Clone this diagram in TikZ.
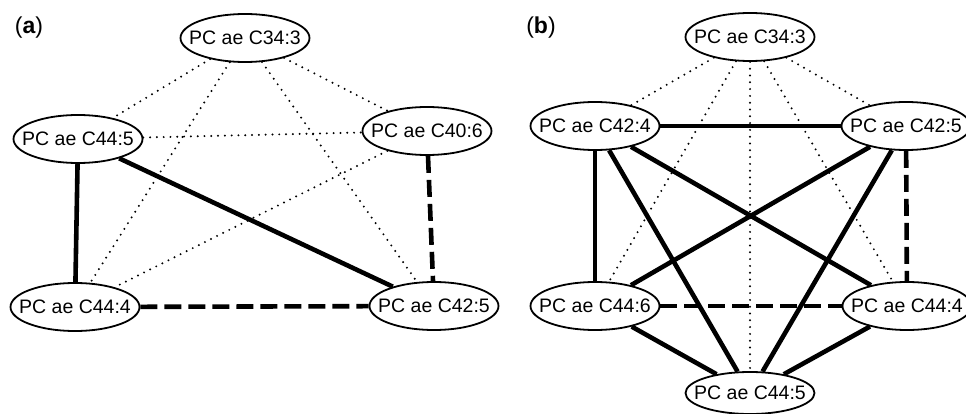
\documentclass[tikz,border=0pt]{standalone}
\usepackage{fontspec}
\setmainfont{Liberation Sans}
\usetikzlibrary{shapes.geometric}
\tikzset{
  pc/.style={ellipse, draw, line width=1.8pt, fill=white, minimum width=129pt, minimum height=48pt,
    inner xsep=-25pt, inner ysep=0pt, font=\fontsize{19.5}{21}\selectfont},
  dotl/.style={line width=2.2pt, line cap=round, dash pattern=on 0pt off 6.8pt},
  soll/.style={line width=4.6pt},
  dasl/.style={line width=4.6pt, dash pattern=on 17pt off 7pt},
  lab/.style={font=\fontsize{23}{26}\selectfont, inner sep=0pt}
}
\begin{document}
\begin{tikzpicture}[x=1pt,y=-1pt]
\useasboundingbox (0,0) rectangle (966,414);
% panel (a)
\node[lab] (la) at (29,28) {(\textbf{a})};
\node[pc] (a343) at (245,38) {PC ae C34:3};
\node[pc] (a445) at (78,139) {PC ae C44:5};
\node[pc] (a406) at (427,131) {PC ae C40:6};
\node[pc] (a444) at (75,307) {PC ae C44:4};
\node[pc] (a425) at (434,306) {PC ae C42:5};
\draw[dotl] (a343) -- (a445);
\draw[dotl] (a343) -- (a406);
\draw[dotl] (a343) -- (a444);
\draw[dotl] (a343) -- (a425);
\draw[dotl] (a445) -- (a406);
\draw[dotl] (a406) -- (a444);
\draw[soll] (a445) -- (a444);
\draw[soll] (a445) -- (a425);
\draw[dasl] (a406) -- (a425);
\draw[dasl] (a444) -- (a425);
% panel (b)
\node[lab] (lb) at (541,28) {(\textbf{b})};
\node[pc] (b343) at (750,37) {PC ae C34:3};
\node[pc] (b424) at (595,126) {PC ae C42:4};
\node[pc] (b425) at (906,126) {PC ae C42:5};
\node[pc] (b446) at (595,306) {PC ae C44:6};
\node[pc] (b444) at (907,306) {PC ae C44:4};
\node[pc, minimum height=42pt] (b445) at (750,393) {PC ae C44:5};
\draw[dotl] (b343) -- (b424);
\draw[dotl] (b343) -- (b425);
\draw[dotl] (b343) -- (b446);
\draw[dotl] (b343) -- (b444);
\draw[dotl] (b343) -- (b445);
\draw[soll] (b424) -- (b425);
\draw[soll] (b424) -- (b446);
\draw[soll] (b424) -- (b445);
\draw[soll] (b424) -- (b444);
\draw[soll] (b425) -- (b446);
\draw[soll] (b425) -- (b445);
\draw[dasl] (b425) -- (b444);
\draw[dasl] (b446) -- (b444);
\draw[soll] (b446) -- (b445);
\draw[soll] (b444) -- (b445);
\end{tikzpicture}
\end{document}
